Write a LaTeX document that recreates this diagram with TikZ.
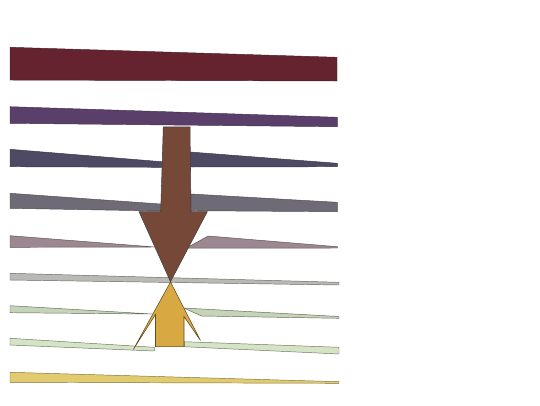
\documentclass[tikz,border=0pt]{standalone}
\begin{document}
\begin{tikzpicture}[x=0.75pt,y=-0.75pt,
  band/.style={line width=0.35pt,line join=round},
  arr/.style={line width=0.4pt,draw=black!75,line join=miter}]
\definecolor{c1}{HTML}{65232F}
\definecolor{c2}{HTML}{5B3F6B}
\definecolor{c3}{HTML}{4F4A63}
\definecolor{c4}{HTML}{6F6B76}
\definecolor{c5}{HTML}{9B8890}
\definecolor{c6}{HTML}{B9BAB5}
\definecolor{c7}{HTML}{C5D3B6}
\definecolor{c8}{HTML}{D6E4C6}
\definecolor{c9}{HTML}{E2CB6E}
\definecolor{cbrown}{HTML}{764838}
\definecolor{cgold}{HTML}{D8A843}
\useasboundingbox (0,0) rectangle (540,405);
% bands
\filldraw[band,fill=c1,draw=c1!70!black] (10,47.3) -- (337,57.3) -- (337,81) -- (10,80) -- cycle;
\filldraw[band,fill=c2,draw=c2!70!black] (10,106.7) -- (337.5,117.3) -- (337.5,126.7) -- (10,123.3) -- cycle;
\filldraw[band,fill=c3,draw=c3!70!black] (10,149.3) -- (161.7,161.7) -- (161.7,167.3) -- (10,166.7) -- cycle;
\filldraw[band,fill=c3,draw=c3!70!black] (190,152) -- (337.3,163.3) -- (337.3,166.7) -- (190,167) -- cycle;
\filldraw[band,fill=c4,draw=c4!70!black] (10,193.3) -- (160.7,204) -- (160.7,211) -- (10,208.3) -- cycle;
\filldraw[band,fill=c4,draw=c4!70!black] (191,194) -- (337.3,202.3) -- (337.3,211.7) -- (191,210.7) -- cycle;
\filldraw[band,fill=c5,draw=c5!60!black] (10,235.7) -- (154.6,247) -- (10,247.3) -- cycle;
\filldraw[band,fill=c5,draw=c5!60!black] (188.2,247) -- (208.3,236) -- (337.3,246.7) -- (337.3,248) -- (188.2,248.2) -- cycle;
\filldraw[band,fill=c6,draw=c6!55!black] (10,273.3) -- (339,282.3) -- (339,285) -- (10,280) -- cycle;
\filldraw[band,fill=c7,draw=c7!50!black] (10,305.7) -- (152.3,314) -- (10,312.7) -- cycle;
\filldraw[band,fill=c7,draw=c7!50!black] (183.7,308) -- (339,316.5) -- (339,318.3) -- (201.7,316) -- cycle;
\filldraw[band,fill=c8,draw=c8!50!black] (10,338.3) -- (154.3,347.3) -- (154.3,351) -- (10,345) -- cycle;
\filldraw[band,fill=c8,draw=c8!50!black] (184.3,341.7) -- (339,347.3) -- (339,354) -- (184.3,346.7) -- cycle;
\filldraw[band,fill=c9,draw=c9!55!black] (10,372.3) -- (339,381.7) -- (339,383.3) -- (10,382.3) -- cycle;
% brown arrow (down)
\filldraw[arr,fill=cbrown] (163.3,127) -- (190,126.8) -- (191,211.7) -- (207.3,211.7) -- (170.5,281.7) -- (139,211.7) -- (160.7,211.7) -- cycle;
% gold arrow (up)
\filldraw[arr,fill=cgold,draw=cgold!45!black] (170.5,282) -- (200.5,340.5) -- (184,316.5) -- (184,346.7) -- (155.5,346.7) -- (155.5,314.5) -- (133.3,349.5) -- cycle;
\end{tikzpicture}
\end{document}
